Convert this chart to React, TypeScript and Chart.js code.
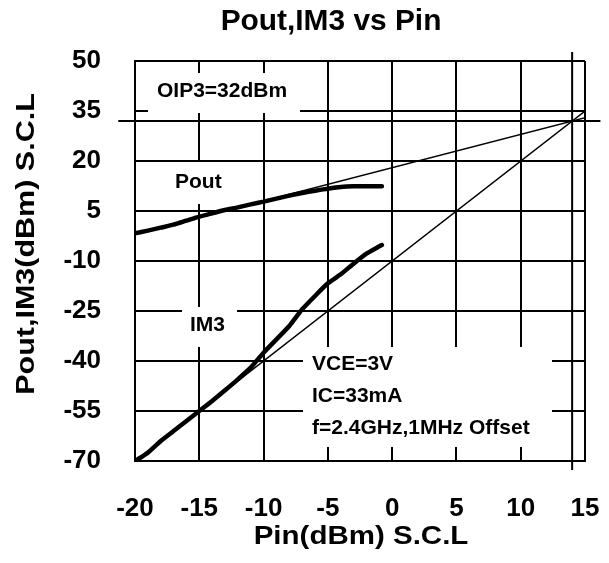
import React, { useEffect, useRef } from 'react';
import { Chart, registerables } from 'chart.js';

Chart.register(...registerables);

// ---- data ----
const poutPin = [-20, -19, -18, -17, -16, -15, -14, -13, -12, -11, -10, -9, -8, -7, -6, -5, -4, -3, -2, -1, -0.8];
const poutValues = [-1.7, -0.9, 0.0, 0.9, 2.1, 3.3, 4.3, 5.3, 6.1, 7.0, 7.8, 8.7, 9.6, 10.4, 11.1, 11.7, 12.2, 12.4, 12.4, 12.4, 12.4];

const im3Pin = [-20, -19, -18, -17, -16, -15, -14, -13, -12, -11, -10, -9, -8, -7, -6, -5, -4, -3, -2, -1, -0.8];
const im3Values = [-70, -67.5, -64, -61, -58, -55, -52, -48.8, -45.5, -42, -37.5, -33.5, -29.5, -24.5, -20.5, -16.7, -14.0, -10.8, -7.8, -5.6, -5.2];

// extrapolated (small-signal) lines
const poutFitPin = [-20, 15.2];
const poutFitValues = [-2, 33.2];
const im3FitPin = [-20, 15];
const im3FitValues = [-70, 35];

// third-order intercept marker
const oip3 = 32;
const iip3 = 14;
const oip3LinePin = [-21.3, 16.2];
const iip3LineOut = [52.7, -72.7];

const xMin = -20, xMax = 15, xStep = 5;
const yMin = -70, yMax = 50, yStep = 15;

const titleText = 'Pout,IM3 vs Pin';
const xTitle = 'Pin(dBm) S.C.L';
const yTitle = 'Pout,IM3(dBm) S.C.L';
const oip3Label = 'OIP3=32dBm';
const poutLabel = 'Pout';
const im3Label = 'IM3';
const condLabels = ['VCE=3V', 'IC=33mA', 'f=2.4GHz,1MHz Offset'];

const FONT = '"Liberation Sans", Arial, sans-serif';

const pts = (xs: number[], ys: number[]) => xs.map((x, i) => ({ x, y: ys[i] }));

const stretchText = (ctx: CanvasRenderingContext2D, text: string, x: number, y: number, sx: number, rot = 0) => {
  ctx.save();
  ctx.translate(x, y);
  if (rot) ctx.rotate(rot);
  ctx.scale(sx, 1);
  ctx.fillText(text, 0, 0);
  ctx.restore();
};

const overlayPlugin = {
  id: 'overlay',
  beforeDatasetsDraw(chart: any) {
    const { ctx, chartArea: a } = chart;
    ctx.save();
    ctx.fillStyle = '#ffffff';
    // white label boxes that hide the grid beneath the annotations
    ctx.fillRect(a.left + 13, a.top + 12, 152, 40);   // OIP3
    ctx.fillRect(a.left + 30, a.top + 101, 70, 42);   // Pout
    ctx.fillRect(a.left + 47, a.top + 246, 55, 40);   // IM3
    ctx.fillRect(a.left + 168, a.top + 286, 249, 100); // conditions
    ctx.fillStyle = '#000000';
    ctx.font = `bold 21px ${FONT}`;
    ctx.textBaseline = 'middle';
    ctx.textAlign = 'left';
    ctx.fillText(oip3Label, a.left + 22, a.top + 30);
    ctx.fillText(poutLabel, a.left + 40, a.top + 121);
    ctx.fillText(im3Label, a.left + 55, a.top + 264);
    condLabels.forEach((t, i) => ctx.fillText(t, a.left + 177, a.top + 303 + i * 32));
    ctx.restore();
  },
  afterDraw(chart: any) {
    const { ctx, chartArea: a } = chart;
    ctx.save();
    ctx.fillStyle = '#000000';
    ctx.textAlign = 'center';
    ctx.textBaseline = 'middle';
    ctx.font = `bold 29px ${FONT}`;
    stretchText(ctx, titleText, 331, 22, 1.03);
    ctx.font = `bold 25px ${FONT}`;
    stretchText(ctx, xTitle, (a.left + a.right) / 2 + 1, 537, 1.18);
    stretchText(ctx, yTitle, 27, 244, 1.22, -Math.PI / 2);
    ctx.restore();
  },
};

export default function App() {
  const ref = useRef<HTMLCanvasElement>(null);
  useEffect(() => {
    if (!ref.current) return;
    const thin = { borderColor: '#000', pointRadius: 0, showLine: true, borderWidth: 1.4, fill: false };
    const chart = new Chart(ref.current, {
      type: 'scatter',
      data: {
        datasets: [
          { ...thin, label: 'Pout fit', data: pts(poutFitPin, poutFitValues) },
          { ...thin, label: 'IM3 fit', data: pts(im3FitPin, im3FitValues) },
          { ...thin, label: 'OIP3', borderWidth: 2, clip: false, data: pts(oip3LinePin, [oip3, oip3]) },
          { ...thin, label: 'IIP3', borderWidth: 2, clip: false, data: pts([iip3, iip3], iip3LineOut) },
          { ...thin, label: 'Pout', borderWidth: 4.5, borderCapStyle: 'round', borderJoinStyle: 'round', tension: 0.2, data: pts(poutPin, poutValues) },
          { ...thin, label: 'IM3', borderWidth: 4.5, borderCapStyle: 'round', borderJoinStyle: 'round', tension: 0.2, data: pts(im3Pin, im3Values) },
        ] as any,
      },
      options: {
        responsive: false,
        devicePixelRatio: 1,
        animation: false,
        events: [],
        layout: { padding: { left: 0, top: 61, right: 24, bottom: 0 } },
        plugins: { legend: { display: false }, tooltip: { enabled: false }, title: { display: false } },
        scales: {
          x: {
            type: 'linear',
            min: xMin,
            max: xMax,
            afterFit: (s: any) => { s.height = 102; s.paddingLeft = 0; s.paddingRight = 0; },
            ticks: { stepSize: xStep, color: '#000', padding: 32, font: { family: FONT, size: 26, weight: 'bold' } },
            grid: { color: '#000', lineWidth: 2, drawTicks: false },
            border: { color: '#000', width: 2 },
          },
          y: {
            type: 'linear',
            min: yMin,
            max: yMax,
            afterFit: (s: any) => { s.width = 135; s.paddingTop = 0; s.paddingBottom = 0; },
            ticks: { stepSize: yStep, color: '#000', padding: 34, font: { family: FONT, size: 26, weight: 'bold' } },
            grid: { color: '#000', lineWidth: 2, drawTicks: false },
            border: { color: '#000', width: 2 },
          },
        },
      } as any,
      plugins: [overlayPlugin],
    });
    return () => chart.destroy();
  }, []);
  return (
    <div style={{ position: 'absolute', left: 0, top: 0, width: 609, height: 563, background: '#fff' }}>
      <canvas ref={ref} width={609} height={563} style={{ display: 'block', width: 609, height: 563 }} />
    </div>
  );
}
